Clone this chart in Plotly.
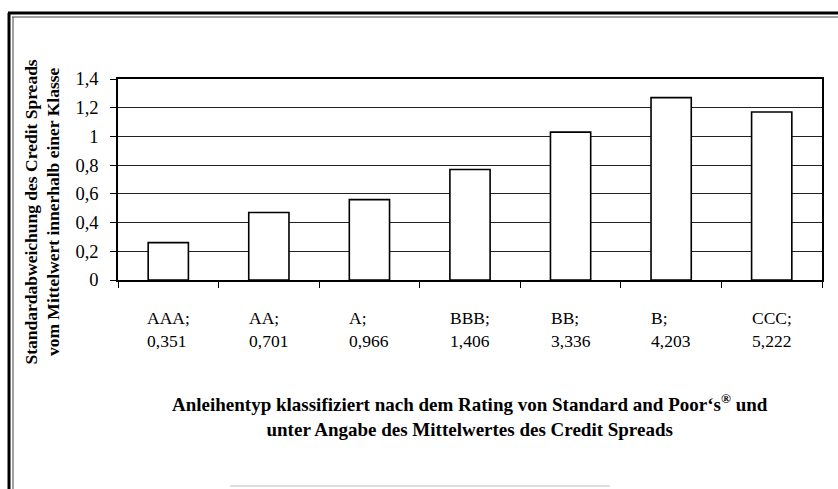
import plotly.graph_objects as go

# Rating classes, mean credit spread per class, and the standard deviation within each class
ratings = ["AAA", "AA", "A", "BBB", "BB", "B", "CCC"]
mean_spreads = ["0,351", "0,701", "0,966", "1,406", "3,336", "4,203", "5,222"]
std_dev = [0.26, 0.47, 0.56, 0.77, 1.03, 1.27, 1.17]

y_ticks = [0, 0.2, 0.4, 0.6, 0.8, 1.0, 1.2, 1.4]
y_tick_text = ["0", "0,2", "0,4", "0,6", "0,8", "1", "1,2", "1,4"]

W, H = 838, 489
L, R, T, B = 118, 16, 79, 209
PW, PH = W - L - R, H - T - B


def px_x(v):
    return (v - L) / PW


def px_y(v):
    return (H - B - v) / PH


serif = "Liberation Serif, Times New Roman, serif"

fig = go.Figure()
fig.add_trace(go.Bar(
    x=ratings,
    y=std_dev,
    marker=dict(color="white", line=dict(color="black", width=1.6)),
    hoverinfo="skip",
))

# Two-line category labels, left-aligned within each block
for r, m in zip(ratings, mean_spreads):
    fig.add_annotation(
        x=r, xref="x", y=px_y(329), yref="paper",
        text=f"{r};<br>{m}", showarrow=False, align="left",
        xanchor="center", yanchor="middle",
        font=dict(family=serif, size=17.5, color="black"),
    )

# X-axis title
fig.add_annotation(
    x=0.5, xref="paper", y=px_y(415), yref="paper",
    text="<b>Anleihentyp klassifiziert nach dem Rating von Standard and Poor‘s<sup>®</sup> und</b><br>"
         "<b>unter Angabe des Mittelwertes des Credit Spreads</b>",
    showarrow=False, align="center", xanchor="center", yanchor="middle",
    font=dict(family=serif, size=19, color="black"),
)

# Y-axis title, rotated
fig.add_annotation(
    x=px_x(42), xref="paper", y=px_y(58), yref="paper",
    text="<b>Standardabweichung des Credit Spreads</b><br><b>vom Mittelwert innerhalb einer Klasse</b>",
    showarrow=False, textangle=-90, align="center",
    xanchor="center", yanchor="top",
    font=dict(family=serif, size=17.5, color="black"),
)

# Outer frame: double line on top and left, faint rule at the bottom
frame = [
    (8, 13, 838, 13, 3, "black"),
    (12, 17, 838, 17, 1, "#444"),
    (9, 13, 9, 489, 3, "black"),
    (13, 17, 13, 489, 1, "#444"),
    (230, 486, 610, 486, 1, "#bbbbbb"),
]
for x0, y0, x1, y1, w, c in frame:
    fig.add_shape(
        type="line", xref="paper", yref="paper",
        x0=px_x(x0), y0=px_y(y0), x1=px_x(x1), y1=px_y(y1),
        line=dict(color=c, width=w),
    )

fig.update_layout(
    width=W, height=H,
    margin=dict(l=L, r=R, t=T, b=B, pad=0),
    paper_bgcolor="white", plot_bgcolor="white",
    showlegend=False,
    bargap=0.6,
    font=dict(family=serif, color="black"),
    xaxis=dict(
        type="category",
        showticklabels=False,
        showline=True, linecolor="black", linewidth=1.5, mirror=True,
        ticks="outside", tickson="boundaries", ticklen=6, tickcolor="black", tickwidth=1.2,
        showgrid=False,
    ),
    yaxis=dict(
        range=[0, 1.4],
        tickvals=y_ticks, ticktext=y_tick_text,
        tickfont=dict(family=serif, size=18.5, color="black"),
        showline=True, linecolor="black", linewidth=1.5, mirror=True,
        ticks="outside", ticklen=6, tickcolor="black", tickwidth=1.2,
        showgrid=True, gridcolor="#222222", gridwidth=1.2,
        zeroline=False,
        ticklabelstandoff=8,
    ),
)

fig.write_html("out.html")
